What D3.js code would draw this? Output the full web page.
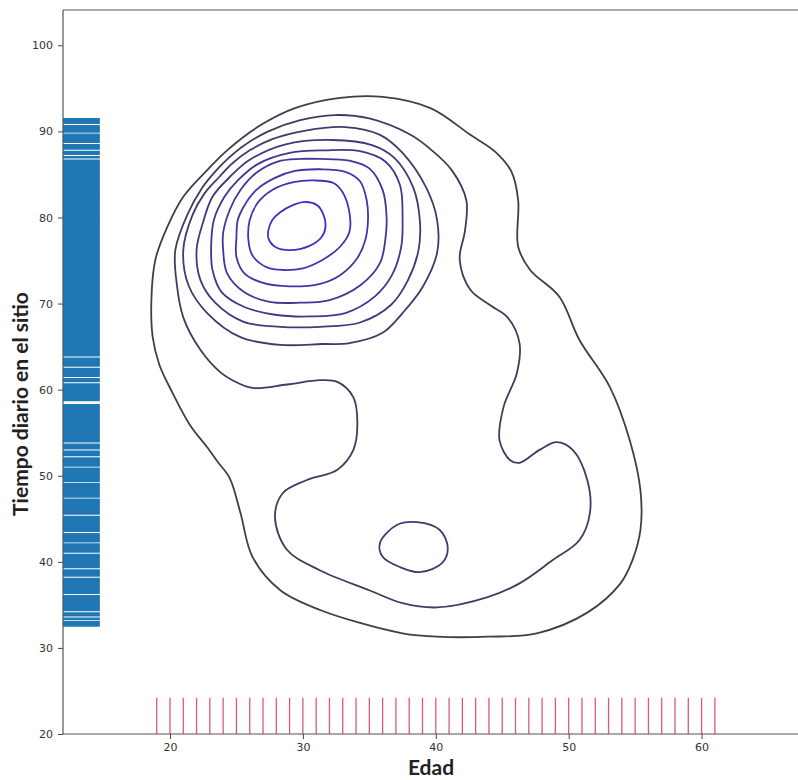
<!DOCTYPE html>
<html>
<head>
<meta charset="utf-8">
<script src="https://cdn.jsdelivr.net/npm/d3@7"></script>
<style>
  body { margin: 0; background: #ffffff; }
  svg { display: block; }
</style>
</head>
<body>
<svg id="chart" width="798" height="780"></svg>
<script>
// ---- Data ----------------------------------------------------------------
// Ages observed (x rug)
const edad = [19,20,21,22,23,24,25,26,27,28,29,30,31,32,33,34,35,36,37,38,39,40,
  41,42,43,44,45,46,47,48,49,50,51,52,53,54,55,56,57,58,59,60,61];

// Daily time on site (y rug)
const tiempo = [32.6,32.8,33.0,33.4,33.8,34.0,34.4,34.6,34.8,35.0,35.2,35.4,35.6,35.8,36.0,
  36.4,36.6,36.8,37.0,37.2,37.4,37.6,37.8,38.0,38.4,38.6,38.8,39.0,39.4,39.6,39.8,40.0,
  40.2,40.4,40.6,40.8,41.2,41.4,41.6,41.8,42.0,42.4,42.6,42.8,43.0,43.2,43.6,43.8,44.0,
  44.2,44.4,44.6,44.8,45.0,45.2,45.6,45.8,46.0,46.2,46.4,46.6,46.8,47.0,47.2,47.6,47.8,
  48.0,48.2,48.4,48.6,48.8,49.0,49.4,49.6,49.8,50.0,50.2,50.4,50.6,50.8,51.2,51.4,51.6,
  51.8,52.0,52.4,52.6,52.8,53.2,53.4,53.6,54.0,54.2,54.4,54.6,54.8,55.0,55.2,55.4,55.6,
  55.8,56.0,56.2,56.4,56.6,56.8,57.0,57.2,57.4,57.6,57.8,58.0,58.2,58.8,59.0,59.2,59.4,
  59.6,59.8,60.0,60.2,60.4,60.6,61.0,61.2,61.6,61.8,62.0,62.2,62.4,62.8,63.0,63.2,63.4,
  63.6,64.0,64.2,64.4,64.6,64.8,65.0,65.2,65.4,65.6,65.8,66.0,66.2,66.4,66.6,66.8,67.0,
  67.2,67.4,67.6,67.8,68.0,68.2,68.4,68.6,68.8,69.0,69.2,69.4,69.6,69.8,70.0,70.2,70.4,
  70.6,70.8,71.0,71.2,71.4,71.6,71.8,72.0,72.2,72.4,72.6,72.8,73.0,73.2,73.4,73.6,73.8,
  74.0,74.2,74.4,74.6,74.8,75.0,75.2,75.4,75.6,75.8,76.0,76.2,76.4,76.6,76.8,77.0,77.2,
  77.4,77.6,77.8,78.0,78.2,78.4,78.6,78.8,79.0,79.2,79.4,79.6,79.8,80.0,80.2,80.4,80.6,
  80.8,81.0,81.2,81.4,81.6,81.8,82.0,82.2,82.4,82.6,82.8,83.0,83.2,83.4,83.6,83.8,84.0,
  84.2,84.4,84.6,84.8,85.0,85.2,85.4,85.6,85.8,86.0,86.2,86.4,86.6,87.0,87.4,87.6,88.0,
  88.2,88.4,88.8,89.0,89.2,89.4,89.6,90.0,90.2,90.4,90.6,91.0,91.2,91.4];

// Density contour rings, [edad, tiempo] points, from the lowest level to the peak
const anillo1 = [[32.8,93.9],[36.0,94.0],[39.6,92.7],[42.6,89.6],[44.5,87.6],[45.7,85.3],
  [46.2,82.0],[46.2,76.6],[47.1,73.9],[49.3,70.8],[50.8,65.8],[53.1,60.3],[54.6,54.1],
  [55.4,48.3],[55.4,43.7],[54.8,40.2],[53.9,37.5],[51.4,34.1],[47.6,31.7],[43.9,31.3],
  [40.1,31.3],[37.5,31.7],[34.3,32.9],[31.3,34.4],[28.3,36.7],[26.2,40.6],[25.3,45.7],
  [24.5,49.7],[23.6,51.6],[22.8,53.3],[21.5,55.9],[20.2,59.6],[19.2,62.9],[18.7,66.1],
  [18.6,70.4],[18.9,75.1],[19.8,78.9],[21.0,82.4],[22.8,85.5],[24.3,87.8],[26.8,90.7],
  [29.4,92.7]];

const anillo2 = [[32.4,91.9],[35.0,91.5],[38.1,89.6],[39.7,87.8],[41.2,85.5],[42.3,82.0],
  [42.2,78.5],[41.8,75.1],[42.6,71.6],[44.1,69.8],[45.4,68.4],[46.3,65.4],[46.1,61.9],
  [45.1,58.0],[44.8,54.1],[45.6,51.8],[46.3,51.5],[47.8,53.0],[49.1,53.9],[50.3,53.0],
  [51.4,49.5],[51.6,45.7],[50.8,42.5],[48.8,40.2],[46.3,37.5],[43.9,35.9],[40.1,34.7],
  [37.5,35.2],[35.0,36.7],[31.3,39.0],[28.8,41.4],[27.9,45.2],[28.5,48.0],[30.3,49.5],
  [32.6,50.7],[33.8,53.0],[34.1,56.1],[33.8,59.1],[32.6,60.9],[31.3,61.1],[28.8,60.6],
  [26.2,60.2],[24.7,61.1],[23.8,62.0],[22.3,64.6],[21.0,68.4],[20.5,72.4],[20.4,76.2],
  [21.3,80.3],[22.4,83.4],[23.5,85.5],[24.4,86.9],[25.6,88.4],[27.4,90.0],[29.8,91.3]];

const anillo3a = [[33.2,90.5],[35.8,89.6],[37.5,87.5],[39.3,83.4],[40.1,79.7],[40.1,75.9],
  [39.0,71.9],[37.5,68.9],[36.0,66.6],[33.5,65.4],[31.5,65.3],[28.3,65.2],[25.3,66.1],
  [22.8,68.9],[21.4,72.1],[21.0,76.2],[21.7,80.3],[22.6,82.8],[23.7,84.7],[24.7,86.3],
  [26.0,87.8],[27.7,89.1],[30.2,90.1]];

const anillo3b = [[35.8,42.2],[37.1,44.3],[38.6,44.6],[40.3,43.7],[40.9,41.7],[40.5,39.9],
  [38.8,38.8],[37.3,39.4],[36.0,40.6]];

const anillo4 = [[32.2,89.0],[35.2,88.4],[36.9,86.9],[38.3,83.5],[38.8,79.7],[38.7,76.2],
  [37.9,72.7],[36.6,69.8],[34.3,67.8],[31.3,67.3],[28.3,67.3],[25.5,67.9],[23.4,70.1],
  [22.3,72.7],[22.0,76.2],[22.5,79.5],[23.2,82.4],[24.5,84.7],[26.0,86.7],[28.7,88.5]];

const anillo5 = [[31.7,87.8],[34.3,87.7],[36.2,86.5],[37.3,83.8],[37.5,79.7],[37.4,76.6],
  [36.7,73.3],[35.4,70.8],[33.2,68.9],[30.5,68.5],[27.9,68.7],[25.6,69.6],[23.9,71.3],
  [23.2,73.9],[23.1,76.8],[23.3,79.7],[24.1,82.4],[25.1,84.3],[26.6,86.2],[29.0,87.5]];

const anillo6 = [[31.3,86.8],[33.5,86.6],[35.0,85.7],[36.0,83.2],[36.3,80.0],[36.2,77.4],
  [35.8,74.7],[34.3,72.1],[32.0,70.4],[29.8,70.1],[27.5,70.2],[25.6,71.3],[24.3,73.5],
  [24.0,76.2],[24.0,78.2],[24.5,80.9],[25.3,83.2],[26.5,85.2],[28.1,86.5],[29.8,86.8]];

const anillo7 = [[31.3,85.6],[33.2,85.3],[34.3,84.2],[34.8,82.0],[34.9,79.7],[34.7,77.4],
  [34.1,75.3],[32.8,73.3],[31.3,72.3],[29.0,72.0],[27.0,72.4],[25.6,73.5],[25.0,75.4],
  [25.0,77.7],[25.1,79.7],[25.6,81.4],[26.5,83.2],[27.9,84.6],[29.4,85.4]];

const anillo8 = [[30.8,84.3],[32.3,84.0],[33.0,82.9],[33.5,80.6],[33.5,78.3],[32.8,76.6],
  [31.5,75.1],[30.0,74.1],[28.5,73.9],[27.3,74.2],[26.2,75.6],[25.9,77.4],[26.0,79.7],
  [26.6,81.7],[27.7,83.2],[29.3,84.1]];

const anillo9 = [[30.2,81.8],[31.1,81.4],[31.5,80.5],[31.7,78.9],[31.4,77.7],[30.5,76.7],
  [29.0,76.2],[27.9,76.6],[27.4,77.6],[27.4,78.5],[27.7,79.7],[28.3,80.6],[29.2,81.4]];

const niveles = [
  { nivel: 1, anillos: [anillo1] },
  { nivel: 2, anillos: [anillo2] },
  { nivel: 3, anillos: [anillo3a, anillo3b] },
  { nivel: 4, anillos: [anillo4] },
  { nivel: 5, anillos: [anillo5] },
  { nivel: 6, anillos: [anillo6] },
  { nivel: 7, anillos: [anillo7] },
  { nivel: 8, anillos: [anillo8] },
  { nivel: 9, anillos: [anillo9] }
];

const ticksX = [20, 30, 40, 50, 60];
const ticksY = [20, 30, 40, 50, 60, 70, 80, 90, 100];
const limitesX = [11.95, 67.33];
const limitesY = [20, 104.1];

// ---- Layout --------------------------------------------------------------
const area = { left: 63, top: 10, right: 799, bottom: 734 };
const svg = d3.select("#chart");

const x = d3.scaleLinear().domain(limitesX).range([area.left, area.right]);
const y = d3.scaleLinear().domain(limitesY).range([area.bottom, area.top]);

svg.append("defs").append("clipPath").attr("id", "plot-clip")
  .append("rect")
  .attr("x", area.left).attr("y", area.top)
  .attr("width", area.right - area.left).attr("height", area.bottom - area.top);

const plot = svg.append("g").attr("clip-path", "url(#plot-clip)");

// Rug along the y axis (blue), 5% of the axes width
const rugLargoY = 0.05 * (area.right - area.left);
plot.append("g").selectAll("line").data(tiempo).join("line")
  .attr("x1", area.left).attr("x2", area.left + rugLargoY)
  .attr("y1", d => y(d)).attr("y2", d => y(d))
  .attr("stroke", "#1f77b4").attr("stroke-width", 2.5);

// Rug along the x axis (red), 5% of the axes height
const rugLargoX = 0.05 * (area.bottom - area.top);
plot.append("g").selectAll("line").data(edad).join("line")
  .attr("x1", d => x(d)).attr("x2", d => x(d))
  .attr("y1", area.bottom).attr("y2", area.bottom - rugLargoX)
  .attr("stroke", "#de5a74").attr("stroke-width", 1.3);

// Density contours
const colorNivel = d3.scaleLinear().domain([1, 9])
  .range(["#3e3e4e", "#3d34c6"]).interpolate(d3.interpolateRgb);
const trazo = d3.line()
  .x(d => x(d[0])).y(d => y(d[1]))
  .curve(d3.curveCatmullRomClosed.alpha(0.5));

const gNiveles = plot.append("g").attr("fill", "none");
niveles.forEach(n => {
  gNiveles.append("g").selectAll("path").data(n.anillos).join("path")
    .attr("d", trazo)
    .attr("stroke", colorNivel(n.nivel))
    .attr("stroke-width", 1.8);
});

// ---- Axes ----------------------------------------------------------------
const fuenteTicks = "DejaVu Sans, sans-serif";

const ejeX = svg.append("g").attr("transform", `translate(0,${area.bottom})`)
  .call(d3.axisBottom(x).tickValues(ticksX).tickFormat(d3.format("d")).tickSize(5).tickPadding(4));
const ejeY = svg.append("g").attr("transform", `translate(${area.left},0)`)
  .call(d3.axisLeft(y).tickValues(ticksY).tickFormat(d3.format("d")).tickSize(5).tickPadding(5));

[ejeX, ejeY].forEach(g => {
  g.select(".domain").remove();
  g.selectAll(".tick line").attr("stroke", "#444").attr("stroke-width", 1);
  g.selectAll(".tick text").attr("font-family", fuenteTicks)
    .attr("font-size", 11).attr("fill", "#333");
});

// Frame
const marco = svg.append("g").attr("stroke", "#555").attr("stroke-width", 1.2).attr("fill", "none");
marco.append("line").attr("x1", area.left).attr("x2", area.left).attr("y1", area.top).attr("y2", area.bottom);
marco.append("line").attr("x1", area.left).attr("x2", area.right).attr("y1", area.bottom).attr("y2", area.bottom);
marco.append("line").attr("x1", area.left).attr("x2", area.right).attr("y1", area.top).attr("y2", area.top);
marco.append("line").attr("x1", area.right).attr("x2", area.right).attr("y1", area.top).attr("y2", area.bottom);

// Axis titles
svg.append("text")
  .attr("x", (area.left + area.right) / 2).attr("y", 775)
  .attr("text-anchor", "middle")
  .attr("font-family", "Lato, sans-serif").attr("font-weight", "bold")
  .attr("font-size", 21).attr("fill", "#222")
  .text("Edad");

svg.append("text")
  .attr("transform", "translate(28,404) rotate(-90)")
  .attr("text-anchor", "middle")
  .attr("font-family", "Lato, sans-serif").attr("font-weight", "bold")
  .attr("font-size", 21).attr("fill", "#222")
  .text("Tiempo diario en el sitio");
</script>
</body>
</html>
